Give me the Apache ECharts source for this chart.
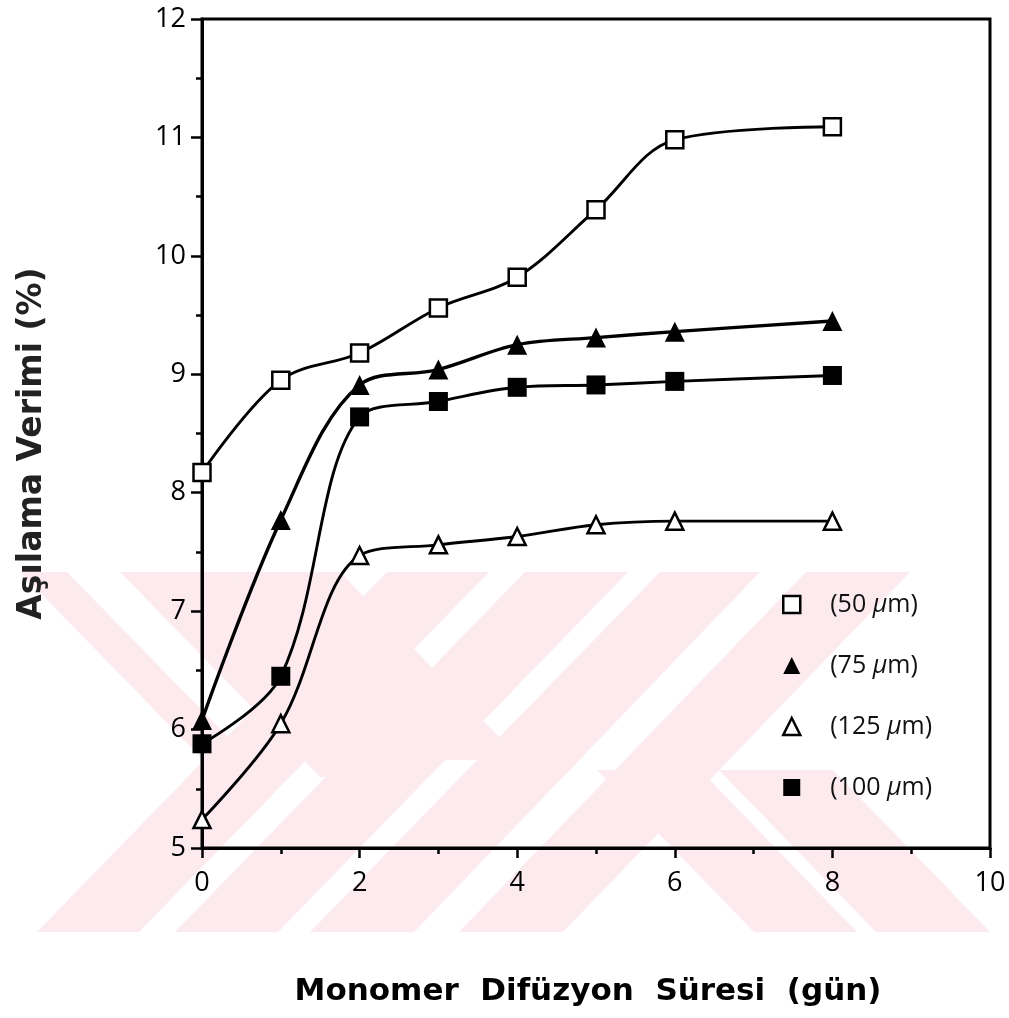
<!DOCTYPE html>
<html>
<head>
<meta charset="utf-8">
<script src="https://cdn.jsdelivr.net/npm/echarts@6/dist/echarts.min.js"></script>
<style>
html,body{margin:0;padding:0;background:#fff;}
#chart{width:1009px;height:1018px;}
</style>
</head>
<body>
<div id="chart"></div>
<script>
// ---- data ----
const days = [0, 1, 2, 3, 4, 5, 6, 8];
const names = ['(50 μm)', '(75 μm)', '(125 μm)', '(100 μm)'];
const s50  = [8.17, 8.95, 9.18, 9.56, 9.82, 10.39, 10.98, 11.09];
const s75  = [6.08, 7.77, 8.91, 9.04, 9.25, 9.31, 9.36, 9.45];
const s125 = [5.24, 6.05, 7.47, 7.56, 7.63, 7.73, 7.76, 7.76];
const s100 = [5.88, 6.45, 8.64, 8.77, 8.89, 8.91, 8.94, 8.99];
const xTitle = 'Monomer  Difüzyon  Süresi  (gün)';
const yTitle = 'Aşılama Verimi (%)';

function pairs(vals) { return days.map((d, i) => [d, vals[i]]); }

// background watermark (decorative stripes)
const wmFill = '#fdeaee';
const wmPolys = [
  [[37,932],[139,932],[489,572],[387,572]],
  [[175,932],[278,932],[628,572],[525,572]],
  [[310,932],[414,932],[760,572],[660,572]],
  [[459,932],[563,932],[910,572],[806,572]],
  [[754,932],[857,932],[700,770],[597,770]],
  [[876,932],[990,932],[833,770],[719,770]],
  [[20,572],[67,572],[267,777],[220,777]],
  [[120,572],[230,572],[430,777],[320,777]],
  [[230,572],[340,572],[521,760],[411,760]]
];

const chart = echarts.init(document.getElementById('chart'), null, {renderer: 'canvas'});
const black = '#000';
const lineW = 2.9;

const option = {
  backgroundColor: '#fff',
  animation: false,
  graphic: wmPolys.map(p => ({
    type: 'polygon', z: -10, silent: true,
    shape: {points: p}, style: {fill: wmFill}
  })),
  grid: {left: 202, right: 19, top: 19, bottom: 170, show: true,
         borderColor: black, borderWidth: 3, backgroundColor: 'transparent'},
  legend: {
    orient: 'vertical', left: 777, top: 587, itemGap: 36,
    itemWidth: 17, itemHeight: 17,
    textStyle: {fontFamily: 'Open Sans', fontSize: 25, color: '#111', padding: [0,0,0,25],
      rich: {i: {fontFamily: 'Open Sans', fontStyle: 'italic', fontSize: 25, color: '#111'}}},
    formatter: n => n.replace('μ', '{i|μ}'),
    data: [
      {name: names[0], icon: 'rect', itemStyle: {color: '#fff', borderColor: black, borderWidth: 2.5}},
      {name: names[1], icon: 'triangle', itemStyle: {color: black}},
      {name: names[2], icon: 'triangle', itemStyle: {color: '#fff', borderColor: black, borderWidth: 2.5}},
      {name: names[3], icon: 'rect', itemStyle: {color: black}}
    ]
  },
  xAxis: {
    type: 'value', min: 0, max: 10, interval: 2,
    name: xTitle, nameLocation: 'middle', nameGap: 128,
    nameTextStyle: {fontFamily: 'DejaVu Sans', fontWeight: 'bold', fontSize: 31, color: black, padding: [0, 16, 0, 0]},
    axisLine: {lineStyle: {color: black, width: 3}},
    axisTick: {length: 10, lineStyle: {color: black, width: 2.5}},
    minorTick: {show: true, splitNumber: 2, length: 6, lineStyle: {color: black, width: 2.5}},
    splitLine: {show: false},
    axisLabel: {fontFamily: 'Open Sans', fontSize: 27, color: black, margin: 22}
  },
  yAxis: {
    type: 'value', min: 5, max: 12, interval: 1,
    name: yTitle, nameLocation: 'middle', nameGap: 153, nameRotate: 90,
    nameTextStyle: {fontFamily: 'DejaVu Sans', fontWeight: 'bold', fontSize: 33, color: '#222', padding: [0, 20, 0, 0]},
    axisLine: {lineStyle: {color: black, width: 3}},
    axisTick: {length: 11, lineStyle: {color: black, width: 2.5}},
    minorTick: {show: true, splitNumber: 2, length: 6, lineStyle: {color: black, width: 2.5}},
    splitLine: {show: false},
    axisLabel: {fontFamily: 'Open Sans', fontSize: 27, color: black, margin: 16}
  },
  series: [
    {name: names[0], type: 'line', data: pairs(s50), smooth: 0.35,
     symbol: 'rect', symbolSize: 17,
     itemStyle: {color: '#fff', borderColor: black, borderWidth: 2.5},
     lineStyle: {color: black, width: lineW}, z: 3},
    {name: names[1], type: 'line', data: pairs(s75), smooth: 0.35,
     symbol: 'triangle', symbolSize: 20,
     itemStyle: {color: black, borderColor: black, borderWidth: 0},
     lineStyle: {color: black, width: lineW + 0.5}, z: 3},
    {name: names[2], type: 'line', data: pairs(s125), smooth: 0.35,
     symbol: 'triangle', symbolSize: 17,
     itemStyle: {color: '#fff', borderColor: black, borderWidth: 2.5},
     lineStyle: {color: black, width: lineW}, z: 3},
    {name: names[3], type: 'line', data: pairs(s100), smooth: 0.35,
     symbol: 'rect', symbolSize: 19,
     itemStyle: {color: black, borderColor: black, borderWidth: 0},
     lineStyle: {color: black, width: lineW}, z: 3}
  ]
};
chart.setOption(option);
</script>
</body>
</html>
